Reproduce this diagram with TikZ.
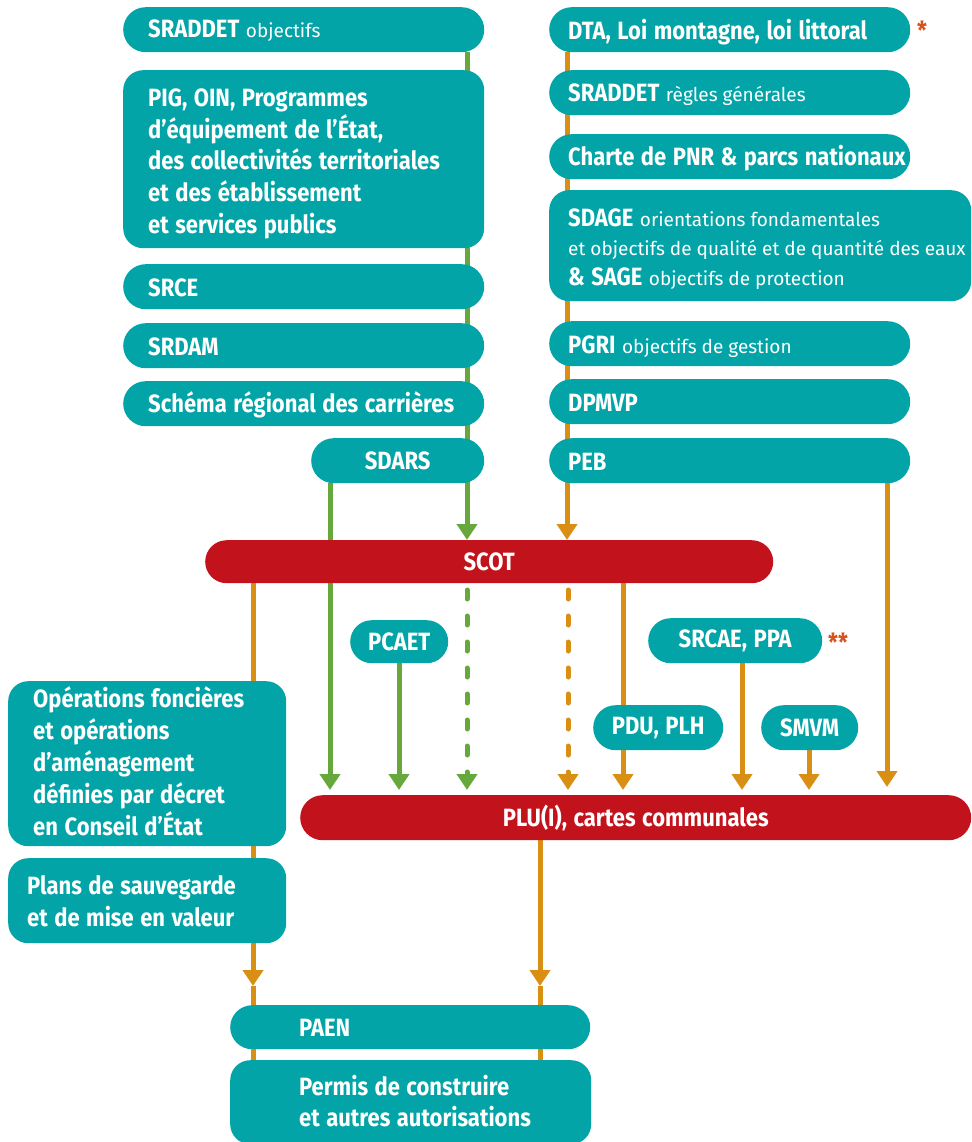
\documentclass[tikz,border=0pt]{standalone}
\usepackage{fontspec}
\setmainfont{Fira Sans}[FakeStretch=0.88, WordSpace=1.25]
\newfontfamily\lightfam{Fira Sans}
\usetikzlibrary{arrows.meta}
\pgfdeclarelayer{bg}\pgfsetlayers{bg,main}
\definecolor{tealc}{HTML}{03A4A7}
\definecolor{redc}{HTML}{C2131C}
\definecolor{greenc}{HTML}{66A83B}
\definecolor{orangec}{HTML}{D98F13}
\definecolor{starc}{HTML}{D5531E}
\newcommand\bigtxt{\fontsize{25}{31.7}\selectfont\bfseries}
\newcommand\lightword[1]{{\lightfam\fontsize{19}{29}\selectfont\mdseries #1}}
% #1 left pad, #2 text width, #3 downward shift, #4 text
\newcommand\btxt[4]{\hspace*{#1}\raisebox{-#3}[\height][\depth]{\begin{minipage}{#2}\raggedright #4\end{minipage}}}
\newcommand\stxt[4]{\hspace*{#1}\raisebox{-#3}[\height][\depth]{\makebox[#2][l]{#4}}}
\begin{document}
\begin{tikzpicture}[x=1pt,y=-1pt,
  box/.style={fill=tealc, text=white, inner ysep=0pt, inner xsep=0pt, font=\bigtxt, anchor=north west},
  pill/.style={box, rounded corners=22.5pt, minimum height=45pt},
  lbox/.style={box, rounded corners=20pt},
  redpill/.style={pill, fill=redc},
  gline/.style={draw=greenc, line width=5pt},
  oline/.style={draw=orangec, line width=5pt},
  tip/.style={-{Triangle[width=20pt,length=16pt]}},
  dline/.style={dash pattern=on 9pt off 17pt, line cap=round},
  star/.style={text=starc, font=\bigtxt, anchor=base, inner sep=0pt}]
\useasboundingbox (0,0) rectangle (971,1142);

% left column
\node[pill, minimum width=361pt] (sraddet) at (123,7) {\stxt{25pt}{336pt}{1pt}{SRADDET \lightword{objectifs}}};
\node[lbox, minimum width=361pt, minimum height=178pt] (pig) at (123,70)
  {\btxt{25pt}{336pt}{4.5pt}{PIG, OIN, Programmes\\d’équipement de l’État,\\des collectivités territoriales\\et des établissement\\et services publics}};
\node[pill, minimum width=361pt] (srce) at (123,264) {\stxt{25pt}{336pt}{1pt}{SRCE}};
\node[pill, minimum width=361pt] (srdam) at (123,323) {\stxt{25pt}{336pt}{1pt}{SRDAM}};
\node[pill, minimum width=361pt] (carr) at (123,381) {\stxt{25pt}{336pt}{1pt}{Schéma régional des carrières}};
\node[pill, minimum width=173pt] (sdars) at (311,438) {SDARS};

% right column
\node[pill, minimum width=361pt] (dta) at (549,7) {\stxt{19pt}{342pt}{2pt}{DTA, Loi montagne, loi littoral}};
\node[star] (ast1) at (922,40) {*};
\node[pill, minimum width=361pt] (sraddetb) at (549,70) {\stxt{19pt}{342pt}{2pt}{SRADDET \lightword{règles générales}}};
\node[pill, minimum width=361pt] (charte) at (549,134) {\stxt{19pt}{342pt}{1.5pt}{Charte de PNR \& parcs nationaux}};
\node[lbox, minimum width=422pt, minimum height=111pt, font=\fontsize{25}{29.5}\selectfont\bfseries] (sdage) at (549,190)
  {\btxt{19pt}{403pt}{3pt}{SDAGE \lightword{orientations fondamentales}\\\lightword{et objectifs de qualité et de quantité des eaux}\\\& SAGE \lightword{objectifs de protection}}};
\node[pill, minimum width=361pt] (pgri) at (549,321) {\stxt{19pt}{342pt}{3pt}{PGRI \lightword{objectifs de gestion}}};
\node[pill, minimum width=361pt] (dpmvp) at (549,379) {\stxt{19pt}{342pt}{1pt}{DPMVP}};
\node[pill, minimum width=361pt] (peb) at (549,438) {\stxt{19pt}{342pt}{1pt}{PEB}};

% SCOT level
\node[redpill, minimum width=568pt, minimum height=43pt, rounded corners=21.5pt] (scot) at (205,540) {SCOT};
\node[pill, minimum width=98pt, minimum height=43pt, rounded corners=21.5pt] (pcaet) at (350,620) {PCAET};
\node[pill, minimum width=174pt] (srcae) at (648,618) {SRCAE, PPA};
\node[star] (ast2) at (838,651) {**};
\node[pill, minimum width=130pt] (pdu) at (593,705) {PDU, PLH};
\node[pill, minimum width=97pt] (smvm) at (761,705) {SMVM};
\node[redpill, minimum width=671pt] (plu) at (300,795) {PLU(I), cartes communales};
\node[lbox, minimum width=278pt, minimum height=165pt, font=\fontsize{25}{32}\selectfont\bfseries] (oper) at (8,681)
  {\btxt{25pt}{253pt}{-2pt}{Opérations foncières\\et opérations\\d’aménagement\\définies par décret\\en Conseil d’État}};
\node[lbox, minimum width=278pt, minimum height=85pt, font=\fontsize{25}{32}\selectfont\bfseries] (plans) at (8,858)
  {\btxt{19pt}{259pt}{1pt}{Plans de sauvegarde\\et de mise en valeur}};
\node[pill, minimum width=360pt, minimum height=44pt, rounded corners=22pt] (paen) at (230,1005) {\stxt{69pt}{291pt}{1pt}{PAEN}};
\node[lbox, minimum width=361pt, minimum height=84pt, font=\fontsize{25}{31}\selectfont\bfseries] (permis) at (230,1060)
  {\btxt{69pt}{292pt}{-1pt}{Permis de construire\\et autres autorisations}};

% connector anchors
\coordinate (g1) at (467,52);
\coordinate (o1) at (567,52);
\coordinate (g2) at (330,483);
\coordinate (g3) at (399,663);
\coordinate (g4) at (467,590);
\coordinate (o2) at (568,590);
\coordinate (o3) at (623,583);
\coordinate (o4) at (742,663);
\coordinate (o5) at (809,750);
\coordinate (o6) at (887,483);
\coordinate (o7) at (253,583);
\coordinate (o8) at (540,840);
\coordinate (m1) at (253,986);
\coordinate (m2) at (540,986);

\begin{pgfonlayer}{bg}
\draw[gline, tip] (g1) -- (g1 |- scot.north);
\draw[oline, tip] (o1) -- (o1 |- scot.north);
\draw[gline, tip, shorten >=5pt] (g2) -- (g2 |- plu.north);
\draw[gline, tip, shorten >=5pt] (g3) -- (g3 |- plu.north);
\draw[gline, dline, tip, shorten >=5pt] (g4) -- (g4 |- plu.north);
\draw[oline, dline, tip, shorten >=5pt] (o2) -- (o2 |- plu.north);
\draw[oline, tip, shorten >=5pt] (o3) -- (o3 |- plu.north);
\draw[oline, tip, shorten >=5pt] (o4) -- (o4 |- plu.north);
\draw[oline, tip, shorten >=5pt] (o5) -- (o5 |- plu.north);
\draw[oline, tip, shorten >=8pt] (o6) -- (o6 |- plu.north);
\draw[oline, tip] (o7) -- (m1);
\draw[oline] (m1) -- (m1 |- permis.north);
\draw[oline, tip] (o8) -- (m2);
\draw[oline] (m2) -- (m2 |- permis.north);
\end{pgfonlayer}
\end{tikzpicture}
\end{document}
